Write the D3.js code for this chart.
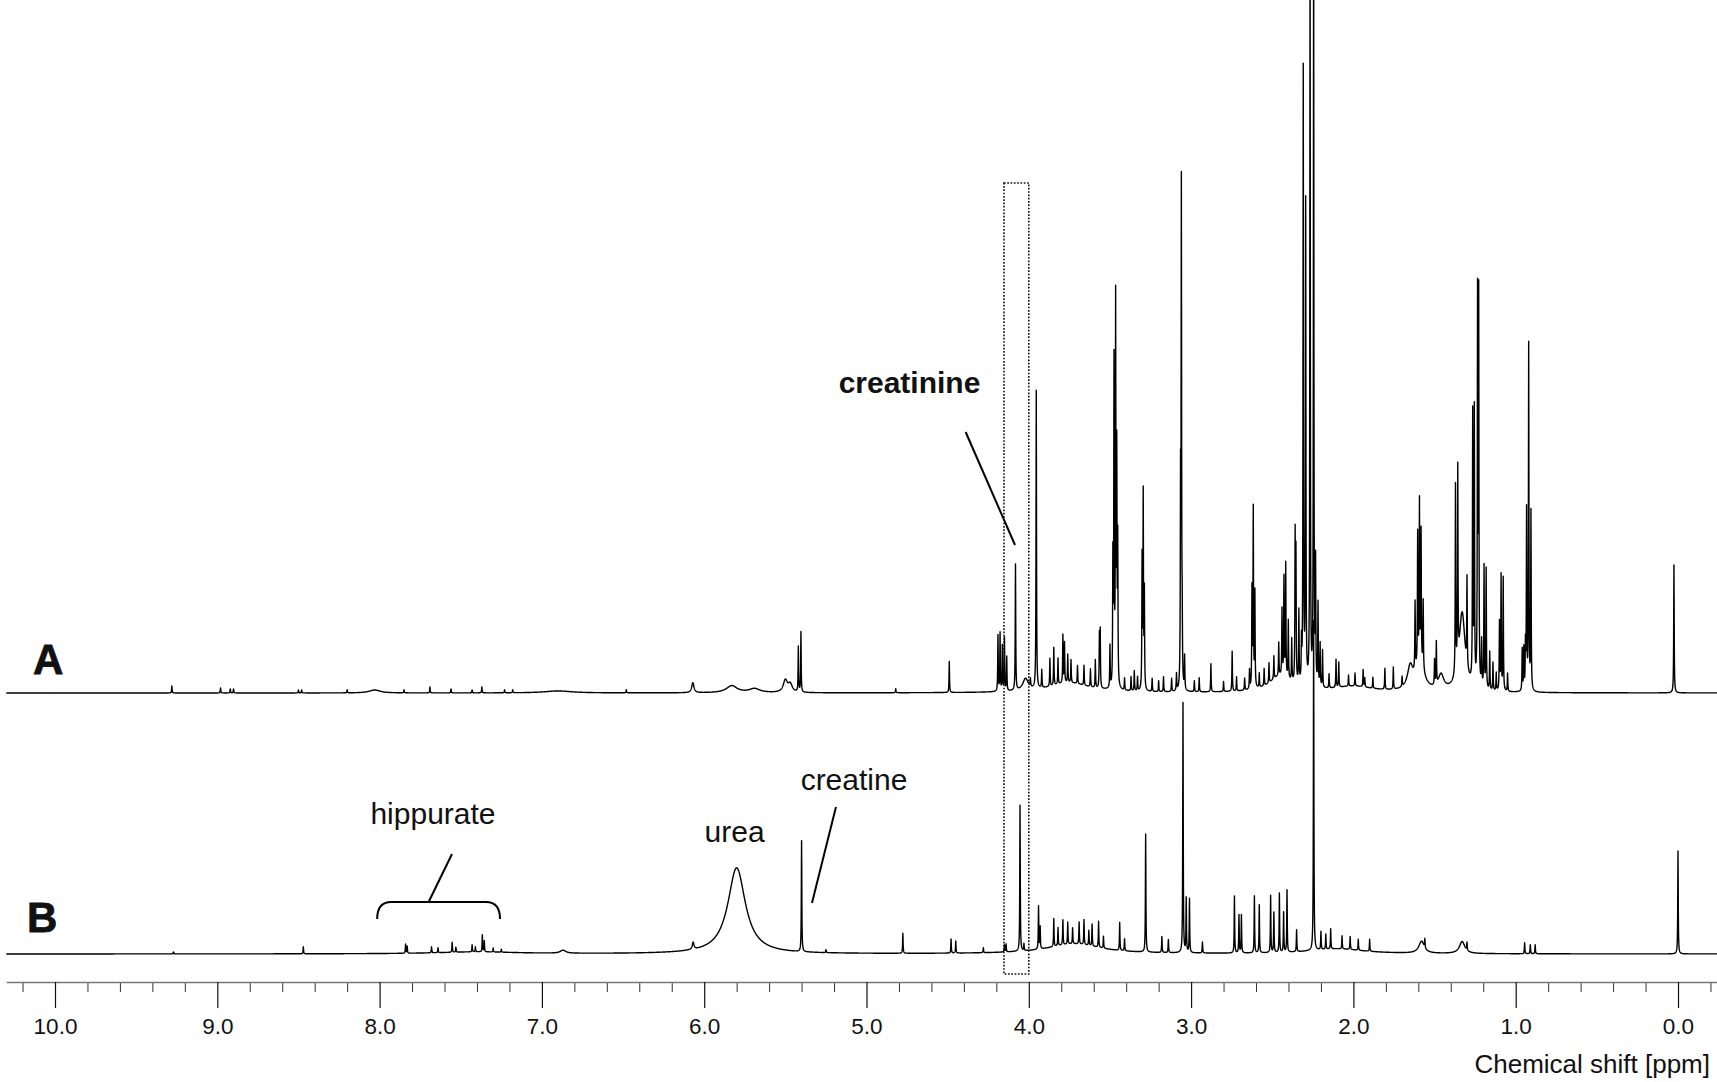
<!DOCTYPE html>
<html>
<head>
<meta charset="utf-8">
<script src="https://cdn.jsdelivr.net/npm/d3@7"></script>
<style>
  html, body { margin: 0; padding: 0; background: #fff; }
  svg { display: block; }
  text { font-family: "Liberation Sans", Arial, Helvetica, sans-serif; fill: #111; }
</style>
</head>
<body>
<div id="chart"></div>
<script>
// Peak lists: [shift ppm, intensity, half width (ppm, optional)]
const peaksA = [
  [9.28, 7], [8.98, 5], [8.92, 4], [8.90, 4], [8.50, 3], [8.48, 3],
  [8.20, 3], [8.03, 3, 0.04], [7.85, 3], [7.69, 6], [7.56, 4], [7.43, 3],
  [7.37, 6], [7.23, 3], [7.18, 3], [6.90, 2, 0.1], [6.48, 3],
  [6.07, 10, 0.008], [5.83, 7, 0.04], [5.69, 4, 0.04],
  [5.50, 12, 0.015], [5.47, 8, 0.015], [5.42, 45], [5.404, 60],
  [4.82, 4], [4.49, 31],
  [4.19, 56], [4.177, 58], [4.163, 45], [4.15, 53], [4.136, 34],
  [4.082, 126], [4.02, 12, 0.02], [3.99, 8],
  [3.954, 298], [3.92, 18], [3.87, 28], [3.846, 38], [3.82, 26],
  [3.79, 48], [3.78, 40], [3.76, 28], [3.74, 23], [3.70, 18], [3.66, 20],
  [3.62, 18], [3.59, 28], [3.565, 52], [3.56, 56], [3.50, 42],
  [3.75, 10, 0.15],
  [3.482, 125], [3.475, 320], [3.465, 380], [3.458, 225], [3.452, 140],
  [3.41, 12], [3.37, 14], [3.35, 20], [3.33, 14],
  [3.302, 130], [3.295, 193], [3.288, 96],
  [3.24, 13], [3.20, 11], [3.17, 15], [3.12, 13], [3.09, 17],
  [3.065, 190], [3.06, 495], [3.055, 55], [3.04, 33],
  [2.98, 11], [2.95, 14], [2.878, 28], [2.80, 10], [2.747, 40], [2.72, 14],
  [2.67, 12], [2.64, 19],
  [2.625, 98], [2.617, 178], [2.607, 95],
  [2.58, 14], [2.55, 17], [2.52, 20], [2.49, 23], [2.46, 33],
  [2.45, 16, 0.08],
  [2.44, 66], [2.428, 98], [2.417, 113], [2.401, 58], [2.38, 42],
  [2.359, 145], [2.354, 126], [2.336, 72], [2.32, 38],
  [2.309, 615], [2.294, 480], [2.267, 760], [2.245, 760],
  [2.233, 120], [2.218, 82], [2.205, 43], [2.19, 37],
  [2.15, 14], [2.107, 28], [2.09, 25], [2.03, 11], [1.99, 13], [1.94, 17],
  [1.93, 9], [1.88, 11], [1.806, 21], [1.754, 22], [1.70, 10],
  [2.0, 6, 0.15],
  [1.65, 22, 0.02], [1.62, 68], [1.604, 130], [1.593, 158], [1.583, 130],
  [1.57, 68], [1.59, 28, 0.03],
  [1.50, 25], [1.489, 42], [1.46, 15, 0.02],
  [1.371, 188], [1.357, 195], [1.33, 78, 0.022], [1.30, 88],
  [1.265, 268], [1.255, 272], [1.235, 385], [1.228, 385], [1.21, 45],
  [1.195, 122], [1.182, 120], [1.16, 38], [1.14, 28], [1.12, 18],
  [1.10, 68], [1.09, 115], [1.077, 113], [1.05, 18],
  [0.96, 42], [0.95, 42], [0.94, 44], [0.933, 178], [0.92, 345], [0.906, 178],
  [0.025, 128]
];

const peaksB = [
  [9.27, 2], [8.47, 7], [7.84, 9], [7.83, 7], [7.68, 6], [7.64, 5],
  [7.553, 10], [7.53, 5], [7.43, 7], [7.41, 5], [7.367, 17], [7.355, 11],
  [7.30, 4], [7.25, 3], [7.40, 2, 0.3], [6.87, 3, 0.02], [6.068, 7, 0.006],
  [5.80, 86, 0.065], [5.40, 111], [5.25, 3], [4.776, 20],
  [4.479, 14], [4.45, 12], [4.28, 5], [4.15, 7], [4.14, 8],
  [4.054, 146], [4.03, 7], [3.94, 43], [3.93, 22],
  [3.72, 10, 0.2], [3.846, 28], [3.82, 18], [3.79, 25], [3.76, 22],
  [3.73, 16], [3.69, 22], [3.66, 25], [3.63, 15], [3.61, 22], [3.57, 26],
  [3.54, 12],
  [3.44, 28], [3.41, 12], [3.28, 118], [3.18, 16], [3.14, 13],
  [3.05, 250], [3.03, 54], [3.01, 54], [2.93, 11],
  [2.733, 57], [2.705, 38], [2.69, 38], [2.61, 57], [2.58, 48],
  [2.51, 57], [2.49, 40], [2.456, 59], [2.43, 40], [2.409, 62],
  [2.35, 22], [2.245, 330], [2.20, 18], [2.17, 15], [2.14, 20],
  [2.1, 5, 0.2], [2.07, 13], [2.02, 13], [1.97, 11], [1.90, 12],
  [1.58, 12, 0.02], [1.56, 9], [1.33, 12, 0.02], [1.30, 8],
  [0.945, 11], [0.91, 9], [0.88, 9],
  [0.0, 103]
];

const majorTicks = [10, 9, 8, 7, 6, 5, 4, 3, 2, 1, 0];
const tickLabels = ['10.0', '9.0', '8.0', '7.0', '6.0', '5.0',
                    '4.0', '3.0', '2.0', '1.0', '0.0'];
const minorTicks = d3.range(-1, 52)
    .filter(i => i % 5 !== 0)
    .map(i => i / 5);

const SHARP = 0.0017;
const width = 1717;
const height = 1082;

/* Sum of Lorentzian lines for a peak list */
function spectrum(peaks) {
  const grid = d3.range(10.3, -0.245, -0.001).concat(peaks.map(p => p[0]));
  grid.sort((a, b) => b - a);
  return grid.map(ppm => [ppm, d3.sum(peaks, p => {
    const d = (ppm - p[0]) / (p[2] || SHARP);
    return p[1] / (1 + d * d);
  })]);
}

const svg = d3.select('#chart')
    .append('svg')
    .attr('width', width)
    .attr('height', height)
    .attr('viewBox', `0 0 ${width} ${height}`);

const x = d3.scaleLinear().domain([10, 0]).range([55, 1678]);
const yA = d3.scaleLinear().domain([0, 693]).range([693, 0]);
const yB = d3.scaleLinear().domain([0, 954]).range([954, 0]);

/* Spectra */
const lineA = d3.line().x(d => x(d[0])).y(d => yA(d[1]));
const lineB = d3.line().x(d => x(d[0])).y(d => yB(d[1]));

svg.append('path')
    .attr('d', lineB(spectrum(peaksB)))
    .attr('fill', 'none')
    .attr('stroke', '#000')
    .attr('stroke-width', 1.4)
    .attr('stroke-linejoin', 'round');

svg.append('path')
    .attr('d', lineA(spectrum(peaksA)))
    .attr('fill', 'none')
    .attr('stroke', '#000')
    .attr('stroke-width', 1.4)
    .attr('stroke-linejoin', 'round');

/* Axis */
const xAxisScale = x.copy().domain([10.3, -0.24]).range([x(10.3), x(-0.24)]);

const axisG = svg.append('g').attr('transform', 'translate(0, 982)');

axisG.append('g')
    .call(d3.axisBottom(xAxisScale)
        .tickValues(minorTicks)
        .tickSize(10)
        .tickSizeOuter(0)
        .tickFormat(''))
    .call(g => g.select('.domain').remove())
    .call(g => g.selectAll('.tick line').attr('stroke', '#333').attr('stroke-width', 1));

axisG.append('g')
    .call(d3.axisBottom(xAxisScale)
        .tickValues(majorTicks)
        .tickSize(26)
        .tickSizeOuter(0)
        .tickPadding(10)
        .tickFormat((d, i) => tickLabels[i]))
    .call(g => g.select('.domain').attr('stroke', '#777').attr('stroke-width', 1.4))
    .call(g => g.selectAll('.tick line').attr('stroke', '#111').attr('stroke-width', 1.2))
    .call(g => g.selectAll('.tick text')
        .attr('font-family', '"Liberation Sans", Arial, sans-serif')
        .attr('font-size', 22.5)
        .attr('fill', '#111'));

svg.append('text')
    .attr('x', 1710)
    .attr('y', 1073)
    .attr('text-anchor', 'end')
    .attr('font-size', 26)
    .text('Chemical shift [ppm]');

/* Spectrum labels */
svg.append('text')
    .attr('x', x(10.136))
    .attr('y', yA(19))
    .attr('font-family', '"DejaVu Sans", sans-serif')
    .attr('font-weight', 'bold')
    .attr('font-size', 42)
    .attr('stroke', '#111')
    .attr('stroke-width', 0.8)
    .text('A');

svg.append('text')
    .attr('x', x(10.173))
    .attr('y', yB(22))
    .attr('font-family', '"DejaVu Sans", sans-serif')
    .attr('font-weight', 'bold')
    .attr('font-size', 42)
    .attr('stroke', '#111')
    .attr('stroke-width', 0.8)
    .text('B');

/* Dotted box round the creatinine CH2 region */
svg.append('rect')
    .attr('x', x(4.153))
    .attr('y', yA(510))
    .attr('width', x(4.0) - x(4.153))
    .attr('height', yB(-20) - yA(510))
    .attr('fill', 'none')
    .attr('stroke', '#111')
    .attr('stroke-width', 1.6)
    .attr('stroke-dasharray', '1.7 1.6');

/* Annotations */
const leader = (x1, y1, x2, y2) => svg.append('line')
    .attr('x1', x1).attr('y1', y1)
    .attr('x2', x2).attr('y2', y2)
    .attr('stroke', '#000')
    .attr('stroke-width', 2);

svg.append('text')
    .attr('x', x(4.735))
    .attr('y', yA(300))
    .attr('text-anchor', 'middle')
    .attr('font-weight', 'bold')
    .attr('font-size', 30)
    .text('creatinine');
leader(x(4.389), yA(261), x(4.085), yA(148));

svg.append('text')
    .attr('x', x(5.077))
    .attr('y', yB(164))
    .attr('text-anchor', 'middle')
    .attr('font-size', 30)
    .text('creatine');
leader(x(5.188), yB(147), x(5.336), yB(51));

svg.append('text')
    .attr('x', x(5.813))
    .attr('y', yB(112))
    .attr('text-anchor', 'middle')
    .attr('font-size', 30)
    .text('urea');

svg.append('text')
    .attr('x', x(7.671))
    .attr('y', yB(130))
    .attr('text-anchor', 'middle')
    .attr('font-size', 30)
    .text('hippurate');
leader(x(7.554), yB(100), x(7.698), yB(52));

const bx0 = x(8.015), bx1 = x(7.258), by0 = yB(52), by1 = yB(35);
svg.append('path')
    .attr('d', `M${bx0},${by1} Q${bx0},${by0} ${bx0 + 14},${by0} ` +
        `L${bx1 - 14},${by0} Q${bx1},${by0} ${bx1},${by1}`)
    .attr('fill', 'none')
    .attr('stroke', '#000')
    .attr('stroke-width', 2);
</script>
</body>
</html>
